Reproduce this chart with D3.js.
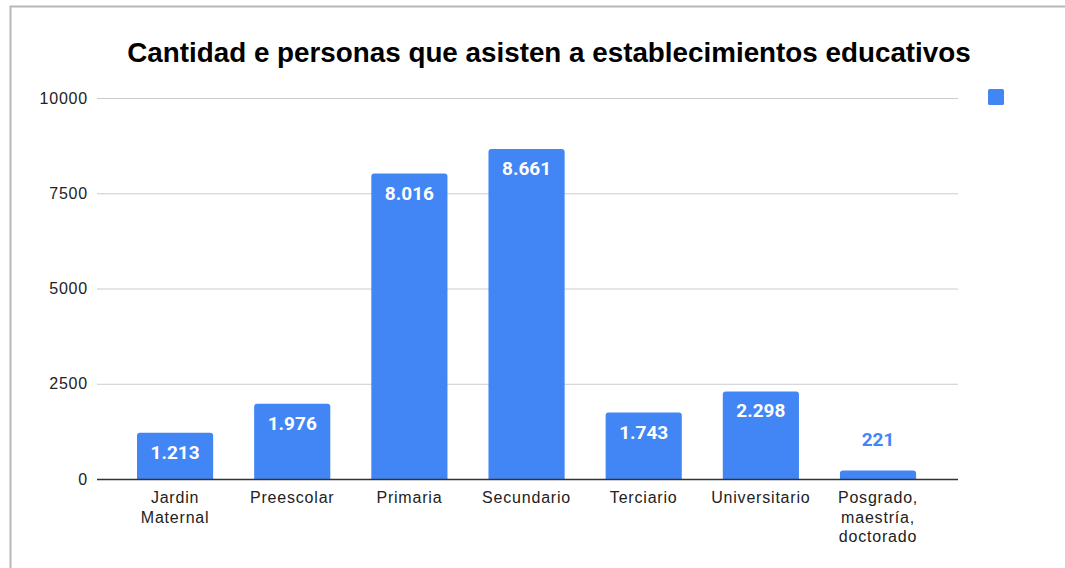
<!DOCTYPE html>
<html>
<head>
<meta charset="utf-8">
<script src="https://cdn.jsdelivr.net/npm/d3@7"></script>
<style>
  body { margin: 0; background: #fff; }
  svg { display: block; }
</style>
</head>
<body>
<div id="chart"></div>
<script>
// data
const categories = [
  ['Jardin', 'Maternal'],
  ['Preescolar'],
  ['Primaria'],
  ['Secundario'],
  ['Terciario'],
  ['Universitario'],
  ['Posgrado,', 'maestría,', 'doctorado'],
];
const values = [1213, 1976, 8016, 8661, 1743, 2298, 221];
const yTicks = [0, 2500, 5000, 7500, 10000];
const title = 'Cantidad e personas que asisten a establecimientos educativos';

const width = 1065;
const height = 568;
const barColor = '#4285f4';
const plot = { left: 97, right: 958, top: 98, bottom: 479 };

const svg = d3.select('#chart')
  .append('svg')
  .attr('width', width)
  .attr('height', height);

// outer frame
svg.append('path')
  .attr('d', `M10.5,${height} V6.5 H${width}`)
  .attr('fill', 'none')
  .attr('stroke', '#b7b7b7')
  .attr('stroke-width', 2);

svg.append('text')
  .attr('x', 549)
  .attr('y', 62)
  .attr('text-anchor', 'middle')
  .attr('font-family', 'Liberation Sans, Arial, sans-serif')
  .attr('font-weight', 'bold')
  .attr('font-size', 27.8)
  .attr('fill', '#000')
  .text(title);

const x = d3.scaleBand()
  .domain(d3.range(categories.length))
  .range([116.5, 936.6])
  .paddingInner(0.35)
  .paddingOuter(0.175);

const y = d3.scaleLinear()
  .domain([0, 10000])
  .range([plot.bottom, plot.top]);

// gridlines + y labels
const yAxis = svg.append('g')
  .attr('transform', `translate(${plot.left},0)`)
  .call(d3.axisLeft(y)
    .tickValues(yTicks)
    .tickSize(-(plot.right - plot.left))
    .tickPadding(9)
    .tickFormat(d3.format('d')));
yAxis.select('.domain').remove();
yAxis.selectAll('line').attr('stroke', '#cccccc');
yAxis.selectAll('text')
  .attr('font-family', 'Liberation Sans, Arial, sans-serif')
  .attr('font-size', 16)
  .attr('letter-spacing', 0.8)
  .attr('fill', '#222');

// bars with rounded top corners
const r = 3;
svg.append('g')
  .selectAll('path')
  .data(values)
  .enter()
  .append('path')
  .attr('fill', barColor)
  .attr('d', (d, i) => {
    const x0 = x(i);
    const w = x.bandwidth();
    const y0 = y(d);
    const y1 = y(0);
    return `M${x0},${y1} V${y0 + r} Q${x0},${y0} ${x0 + r},${y0} H${x0 + w - r} Q${x0 + w},${y0} ${x0 + w},${y0 + r} V${y1} Z`;
  });

// baseline
svg.append('line')
  .attr('x1', plot.left)
  .attr('x2', plot.right)
  .attr('y1', y(0) + 0.5)
  .attr('y2', y(0) + 0.5)
  .attr('stroke', '#333')
  .attr('stroke-width', 1.5);

// value labels
const fmt = d3.formatLocale({ decimal: ',', thousands: '.', grouping: [3], currency: ['', ''] }).format(',d');
svg.append('g')
  .selectAll('text')
  .data(values)
  .enter()
  .append('text')
  .attr('x', (d, i) => x(i) + x.bandwidth() / 2)
  .attr('y', d => (y(0) - y(d) > 40 ? y(d) + 26 : y(d) - 25))
  .attr('text-anchor', 'middle')
  .attr('font-family', 'Roboto, sans-serif')
  .attr('font-weight', 'bold')
  .attr('font-size', 19)
  .attr('fill', d => (y(0) - y(d) > 40 ? '#fff' : barColor))
  .text(d => fmt(d));

// category labels
const cat = svg.append('g')
  .selectAll('text')
  .data(categories)
  .enter()
  .append('text')
  .attr('x', (d, i) => x(i) + x.bandwidth() / 2)
  .attr('y', 503)
  .attr('text-anchor', 'middle')
  .attr('font-family', 'Liberation Sans, Arial, sans-serif')
  .attr('font-size', 16)
  .attr('letter-spacing', 0.8)
  .attr('fill', '#222');
cat.selectAll('tspan')
  .data(d => d)
  .enter()
  .append('tspan')
  .attr('x', function () { return d3.select(this.parentNode).attr('x'); })
  .attr('dy', (d, i) => (i === 0 ? 0 : 19.5))
  .text(d => d);

// legend swatch
svg.append('rect')
  .attr('x', 988)
  .attr('y', 89)
  .attr('width', 16)
  .attr('height', 16)
  .attr('rx', 1.5)
  .attr('fill', barColor);
</script>
</body>
</html>
